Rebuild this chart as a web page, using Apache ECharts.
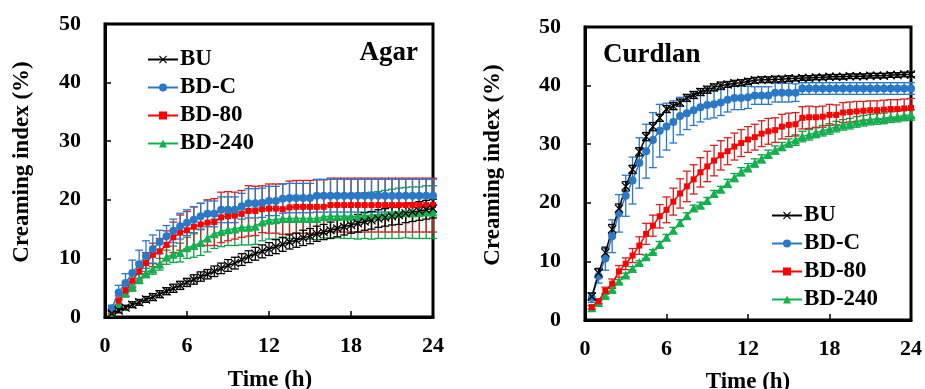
<!DOCTYPE html>
<html><head><meta charset="utf-8">
<script src="https://cdn.jsdelivr.net/npm/echarts@6/dist/echarts.min.js"></script>
<style>html,body{margin:0;padding:0;background:#fff}#c{width:925px;height:389px}</style>
</head><body><div id="c"></div>
<script>
var time = [0.5,1,1.5,2,2.5,3,3.5,4,4.5,5,5.5,6,6.5,7,7.5,8,8.5,9,9.5,10,10.5,11,11.5,12,12.5,13,13.5,14,14.5,15,15.5,16,16.5,17,17.5,18,18.5,19,19.5,20,20.5,21,21.5,22,22.5,23,23.5,24];
var xTicks = [0,6,12,18,24];
var yTicks = [0,10,20,30,40,50];
var seriesNames = ['BU','BD-C','BD-80','BD-240'];

// Agar panel
var agarBU = [0.6,1.1,1.6,2.1,2.5,3.0,3.4,3.9,4.4,4.9, 5.4,5.9,6.4,6.9,7.3,7.8,8.3,8.8,9.2,9.8, 10.3,10.8,11.2,11.6,12.0,12.4,12.8,13.1,13.5,13.8, 14.2,14.5,14.8,15.1,15.4,15.7,16.0,16.3,16.5,16.8,17.0,17.2,17.4,17.7,17.9,18.1,18.3,18.5];
var agarBUerr = [0.3,0.4,0.4,0.5,0.5,0.5,0.6,0.6,0.6,0.7, 0.7,0.7,0.8,0.8,0.8,0.9,0.9,1.0,1.0,1.0, 1.0,1.1,1.1,1.1,1.2,1.2,1.2,1.2,1.3,1.3, 1.3,1.3,1.4,1.4,1.4,1.4,1.5,1.5,1.5,1.5,1.5,1.5,1.6,1.6,1.6,1.6,1.6,1.6];
var agarBDC = [1.5,4.2,5.8,7.5,9.0,10.4,11.6,12.8,13.8,14.7, 15.5,16.1,16.6,17.2,17.6,17.6,18.3,18.3,18.3,18.9, 19.4,19.4,19.5,19.8,19.8,20.2,20.3,20.3,20.3,20.3, 20.7,20.7,20.7,20.7,20.7,20.7,20.7,20.7,20.7,20.7,20.7,20.7,20.7,20.7,20.7,20.7,20.7,20.7];
var agarBDCerr = [0.5,1.2,1.6,2.2,2.4,2.6,2.4,2.0,1.8,2.0, 2.2,2.2,2.2,2.2,2.2,2.2,2.2,2.2,2.2,2.2, 2.5,2.5,2.5,2.5,2.5,2.5,2.5,2.5,2.5,2.5, 2.8,2.8,2.8,2.8,2.8,2.8,2.8,2.8,2.8,2.8,2.8,2.8,2.8,2.8,2.8,2.8,2.8,2.8];
var agarBD80 = [1.0,2.8,4.5,6.2,7.8,9.2,10.6,11.2,12.3,13.6, 14.4,14.8,15.4,15.8,16.1,16.2,17.0,17.2,17.3,17.6, 18.1,18.1,18.4,18.5,18.5,18.4,18.7,18.8,18.8,18.8, 18.8,18.8,19.1,19.1,19.1,19.1,19.1,19.1,19.1,19.1,19.1,19.1,19.1,19.1,19.1,19.1,19.1,19.1];
var agarBD80err = [0.4,0.8,1.0,1.2,1.5,1.8,2.0,2.2,2.4,2.6, 3.0,3.2,3.4,3.6,3.9,4.0,4.3,4.2,4.0,4.0, 4.3,4.2,4.0,4.2,4.2,4.3,4.5,4.5,4.5,4.5, 4.6,4.6,4.6,4.6,4.6,4.6,4.6,4.6,4.6,4.6,4.6,4.6,4.6,4.6,4.6,4.6,4.6,4.6];
var agarBD240 = [0.8,2.3,4.2,5.2,6.5,7.5,8.2,9.0,10.2,10.7, 11.0,11.8,12.2,12.7,13.5,14.2,14.6,14.9,15.0,15.3, 15.3,15.5,16.2,16.5,16.6,16.8,16.8,16.8,16.8,16.8, 16.8,17.1,17.2,17.2,17.2,17.2,17.2,17.3,17.3,17.4,17.5,17.6,17.7,17.8,17.8,17.8,17.9,17.9];
var agarBD240err = [0.4,0.6,0.8,0.8,0.8,0.8,0.9,1.0,1.2,1.4, 1.6,1.8,2.0,2.2,2.4,2.5,2.6,2.7,2.8,3.0, 3.0,3.1,3.2,3.2,3.3,3.3,3.4,3.4,3.5,3.5, 3.6,3.6,3.7,3.7,3.8,3.8,3.9,3.9,4.0,4.0,4.1,4.2,4.3,4.3,4.4,4.4,4.5,4.5];

// Curdlan panel
var curdBU = [4.0,8.0,11.5,15.5,19.0,22.8,25.7,28.7,31.3,33.0, 34.5,36.0,36.5,37.1,37.9,38.4,38.9,39.3,39.7,40.0, 40.2,40.4,40.5,40.7,40.9,41.0,41.0,41.1,41.1,41.2, 41.2,41.3,41.3,41.4,41.4,41.5,41.5,41.5,41.6,41.6,41.6,41.7,41.7,41.7,41.8,41.8,41.9,41.9];
var curdBUerr = [0.6,0.8,0.8,0.8,0.8,0.8,0.7,0.7,0.7,0.7, 0.6,0.6,0.6,0.6,0.6,0.6,0.6,0.6,0.6,0.6, 0.5,0.5,0.5,0.5,0.5,0.5,0.5,0.5,0.5,0.5, 0.4,0.4,0.4,0.4,0.4,0.4,0.4,0.4,0.4,0.4,0.4,0.4,0.4,0.4,0.4,0.4,0.4,0.4];
var curdBDC = [3.8,7.5,10.5,14.3,18.2,21.2,23.8,26.8,28.8,30.7, 32.3,33.0,33.8,34.8,35.3,35.8,36.3,36.7,36.8,37.1, 37.6,37.9,37.9,38.0,38.3,38.3,38.3,38.8,38.8,38.8, 38.8,39.5,39.5,39.5,39.5,39.5,39.5,39.5,39.5,39.5,39.5,39.5,39.5,39.5,39.5,39.5,39.5,39.5];
var curdBDCerr = [0.8,1.2,2.0,2.8,3.2,3.5,4.0,4.3,4.6,4.7, 4.5,4.0,3.6,3.2,2.8,2.6,2.5,2.4,2.3,2.2, 2.1,2.0,2.0,1.9,1.5,1.5,1.5,1.6,1.6,1.6, 1.5,1.0,1.0,1.0,1.0,1.0,1.0,1.0,1.0,1.0,1.0,1.0,1.0,1.0,1.0,1.0,1.0,1.0];
var curdBD80 = [2.2,3.2,5.0,6.2,8.3,9.6,11.0,12.7,14.7,16.1, 17.7,18.8,20.2,21.6,22.8,24.0,25.2,26.2,27.2,28.1, 28.8,29.6,30.2,30.8,31.2,31.8,32.2,32.4,33.0,33.3, 33.4,34.5,34.6,34.6,34.7,35.0,35.0,35.4,35.5,35.6,35.7,35.8,35.8,35.9,36.0,36.0,36.1,36.2];
var curdBD80err = [0.3,0.4,0.6,0.8,1.0,1.0,1.2,1.5,1.8,1.8, 2.0,2.2,2.3,2.5,2.6,2.5,2.5,2.6,2.6,2.5, 2.3,2.3,2.3,2.2,2.2,2.2,2.2,2.1,2.1,2.0, 2.0,1.9,1.9,1.8,1.8,1.8,1.7,1.7,1.7,1.7,1.6,1.6,1.6,1.6,1.6,1.6,1.6,1.6];
var curdBD240 = [2.1,3.0,4.2,5.2,6.6,7.7,8.8,9.8,10.8,11.7, 12.9,14.1,15.3,16.6,17.8,19.1,19.6,20.4,21.6,22.3, 23.3,24.3,25.3,26.0,26.8,27.5,28.3,29.0,29.6,30.2, 30.7,31.3,31.6,32.0,32.3,32.6,33.0,33.3,33.5,33.8,34.0,34.2,34.3,34.4,34.6,34.7,34.9,35.0];
var curdBD240err = [0.3,0.3,0.3,0.3,0.3,0.3,0.3,0.3,0.3,0.3, 0.5,0.5,0.5,0.5,0.5,0.5,0.5,0.5,0.5,0.5, 0.7,0.7,0.7,0.7,0.7,0.7,0.7,0.7,0.7,0.7, 0.9,0.9,0.9,0.9,0.9,0.9,0.9,0.9,0.9,0.9,0.9,0.9,0.9,0.9,0.9,0.9,0.9,0.9];

var FONT = '"Liberation Serif","Times New Roman",serif';
var lineColors = ['#000000','#2A78C6','#FF0000','#12B04E'];
var errColors = ['#000000','#2A78C6','#D42020','#12A04A'];
var symbols = ['path://M0,1 L1,0 L5,4 L9,0 L10,1 L6,5 L10,9 L9,10 L5,6 L1,10 L0,9 L4,5 Z','circle','rect','triangle'];
var symbolSizes = [9,8,6,9];

function pairs(ys){ return time.map(function(t,i){return [t, ys[i]];}); }
function errData(ys, es){ return time.map(function(t,i){return [t, ys[i]-es[i], ys[i]+es[i]];}); }

function errSeries(ys, es, idx, gi){
  return {
    type:'custom', xAxisIndex:gi, yAxisIndex:gi, z:1, silent:true,
    data: errData(ys, es),
    encode:{x:0, y:[1,2]},
    renderItem:function(params, api){
      var x = api.value(0);
      var lo = api.coord([x, api.value(1)]);
      var hi = api.coord([x, api.value(2)]);
      var w = 4;
      var st = {stroke: errColors[idx], lineWidth:1.3};
      return {type:'group', children:[
        {type:'line', shape:{x1:lo[0],y1:lo[1],x2:hi[0],y2:hi[1]}, style:st},
        {type:'line', shape:{x1:hi[0]-w,y1:hi[1],x2:hi[0]+w,y2:hi[1]}, style:st},
        {type:'line', shape:{x1:lo[0]-w,y1:lo[1],x2:lo[0]+w,y2:lo[1]}, style:st}
      ]};
    }
  };
}
function lineSeries(ys, idx, gi){
  return {
    type:'line', name:seriesNames[idx], xAxisIndex:gi, yAxisIndex:gi, z:3,
    data: pairs(ys), symbol:symbols[idx], symbolSize:symbolSizes[idx], showAllSymbol:true,
    lineStyle:{color:lineColors[idx], width:1.5},
    itemStyle:{color:lineColors[idx]},
    animation:false
  };
}

var panels = [
  {vals:[agarBU,agarBDC,agarBD80,agarBD240], errs:[agarBUerr,agarBDCerr,agarBD80err,agarBD240err]},
  {vals:[curdBU,curdBDC,curdBD80,curdBD240], errs:[curdBUerr,curdBDCerr,curdBD80err,curdBD240err]}
];
var series = [];
panels.forEach(function(p, gi){
  for (var i=3;i>=0;i--) series.push(errSeries(p.vals[i], p.errs[i], i, gi));
  for (var j=3;j>=0;j--) series.push(lineSeries(p.vals[j], j, gi));
});

function xAxis(gi){
  return {type:'value', gridIndex:gi, min:xTicks[0], max:xTicks[xTicks.length-1], interval:xTicks[1]-xTicks[0],
    axisLine:{show:true, lineStyle:{color:'#000', width:3}},
    axisTick:{show:true, inside:true, length:6, lineStyle:{color:'#000', width:1.5}},
    axisLabel:{color:'#000', fontFamily:FONT, fontWeight:'bold', fontSize:22, margin:18},
    splitLine:{show:false}};
}
function yAxis(gi){
  return {type:'value', gridIndex:gi, min:yTicks[0], max:yTicks[yTicks.length-1], interval:yTicks[1]-yTicks[0],
    axisLine:{show:true, lineStyle:{color:'#000', width:3}},
    axisTick:{show:true, inside:true, length:6, lineStyle:{color:'#000', width:1.5}},
    axisLabel:{color:'#000', fontFamily:FONT, fontWeight:'bold', fontSize:22, margin:24},
    splitLine:{show:false}};
}
function legend(left, top){
  return {orient:'vertical', left:left, top:top, data:seriesNames, itemWidth:30, itemHeight:10, itemGap:5,
    textStyle:{color:'#000', fontFamily:FONT, fontWeight:'bold', fontSize:23, padding:[0,0,0,-3]},
    selectedMode:false};
}

var chart = echarts.init(document.getElementById('c'), null, {renderer:'canvas'});
chart.setOption({
  animation:false,
  backgroundColor:'#fff',
  grid:[
    {left:105, top:24, width:328, height:293, show:true, borderColor:'#000', borderWidth:3, backgroundColor:'transparent'},
    {left:585, top:27, width:326, height:293, show:true, borderColor:'#000', borderWidth:3, backgroundColor:'transparent'}
  ],
  xAxis:[xAxis(0), xAxis(1)],
  yAxis:[yAxis(0), yAxis(1)],
  legend:[legend(142, 43), legend(766, 199)],
  graphic:[
    {type:'text', x:418, y:53, style:{text:'Agar', font:'bold 27px '+FONT, fill:'#000', textAlign:'right', textVerticalAlign:'middle'}},
    {type:'text', x:603, y:55, style:{text:'Curdlan', font:'bold 27px '+FONT, fill:'#000', textAlign:'left', textVerticalAlign:'middle'}},
    {type:'text', x:22, y:162, rotation:Math.PI/2, style:{text:'Creaming index (%)', font:'bold 23px '+FONT, fill:'#000', textAlign:'center', textVerticalAlign:'middle'}},
    {type:'text', x:493, y:165, rotation:Math.PI/2, style:{text:'Creaming index (%)', font:'bold 23px '+FONT, fill:'#000', textAlign:'center', textVerticalAlign:'middle'}},
    {type:'text', x:270, y:380, style:{text:'Time (h)', font:'bold 23px '+FONT, fill:'#000', textAlign:'center', textVerticalAlign:'middle'}},
    {type:'text', x:748, y:382, style:{text:'Time (h)', font:'bold 23px '+FONT, fill:'#000', textAlign:'center', textVerticalAlign:'middle'}}
  ],
  series:series
});
</script></body></html>
